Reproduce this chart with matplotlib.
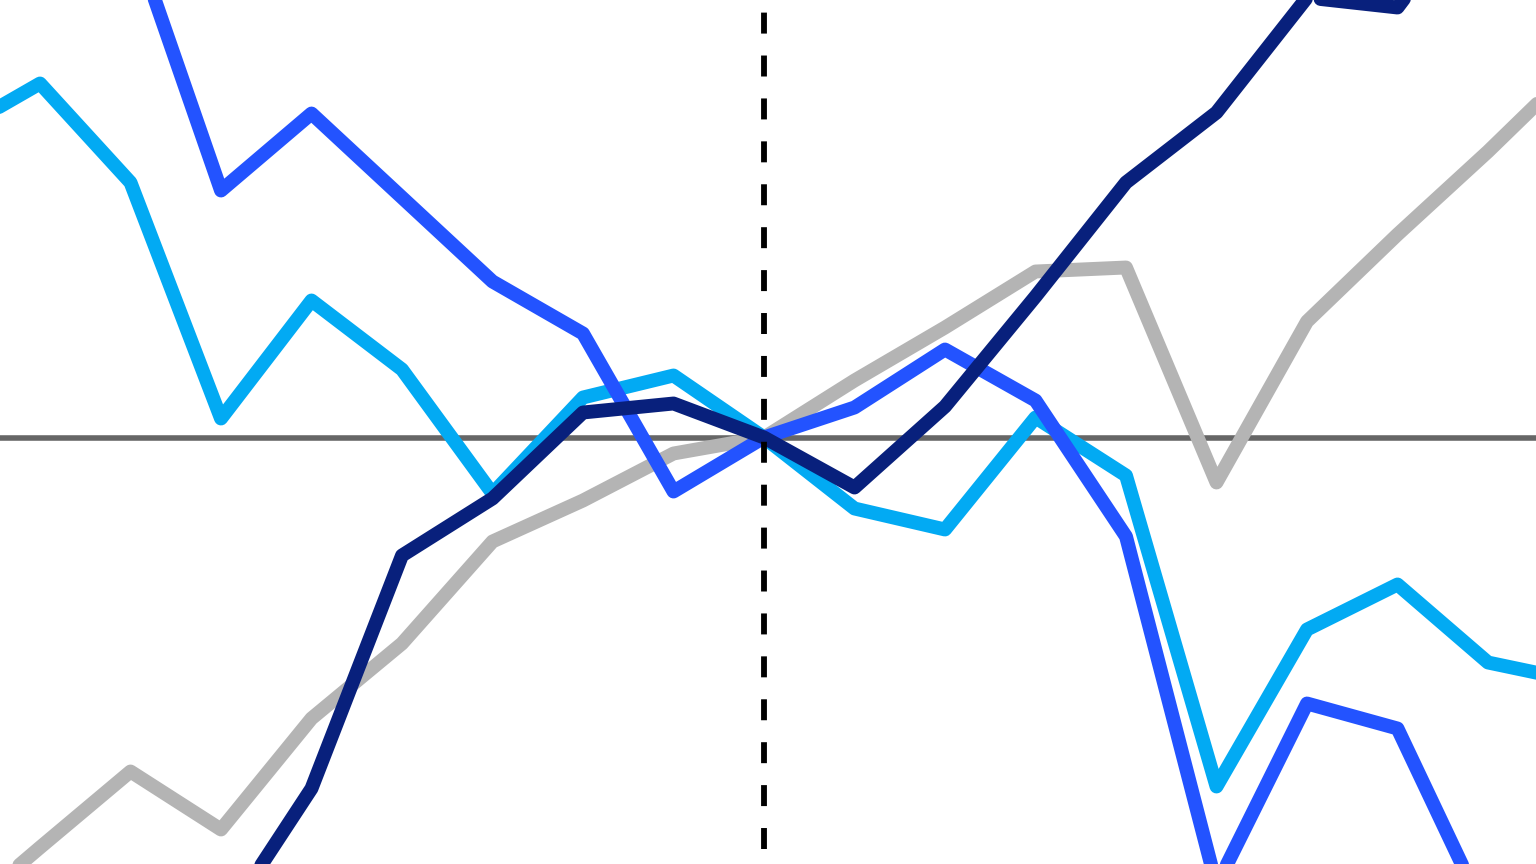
import matplotlib
matplotlib.use("Agg")
import matplotlib.pyplot as plt

# x positions (period index); index 8 is the reference period (dashed line)
periods = list(range(-1, 18))

gray_vals = [-4.87, -4.10, -3.34, -3.92, -2.81, -2.06, -1.04, -0.63, -0.16, 0.0,
             0.57, 1.10, 1.66, 1.70, -0.45, 1.16, 2.03, 2.86, 3.74]
lightblue_vals = [3.02, 3.54, 2.55, 0.19, 1.37, 0.68, -0.56, 0.40, 0.62, 0.0,
                  -0.71, -0.92, 0.20, -0.38, -3.49, -1.92, -1.47, -2.25, -2.44]
blue_vals = [6.98, 6.18, 5.08, 2.47, 3.24, 2.40, 1.56, 1.04, -0.54, 0.0,
             0.30, 0.88, 0.37, -0.99, -4.48, -2.66, -2.91, -4.82, -5.13]
navy_vals = [-6.63, -6.23, -5.63, -4.89, -3.51, -1.18, -0.61, 0.25, 0.34, 0.0,
             -0.50, 0.31, 1.41, 2.55, 3.25, 4.40, 4.30, 5.50, 6.20]

ref_period = 8

fig = plt.figure(figsize=(15.36, 8.64), dpi=100)
ax = fig.add_axes([0, 0, 1, 1])
ax.set_axis_off()

ax.axhline(0, color="#666666", lw=4.0, zorder=1)

lw = 10.0
for vals, col in [(gray_vals, "#b4b4b4"), (lightblue_vals, "#02aaf3"),
                  (blue_vals, "#2353ff"), (navy_vals, "#08207c")]:
    ax.plot(periods, vals, color=col, lw=lw, solid_joinstyle="round",
            solid_capstyle="round", zorder=2)

dlw = 4.2
ax.axvline(ref_period, ymin=(864 - 849) / 864, ymax=(864 - 12) / 864,
           color="black", lw=dlw, linestyle=(0, (15.1 / dlw, 15.8 / dlw)),
           dash_capstyle="butt", zorder=5)

ax.set_xlim((0 - 40) / 90.5, (1536 - 40) / 90.5)
ax.set_ylim((437.5 - 864) / 100, 437.5 / 100)

fig.savefig("out.png", dpi=100)
